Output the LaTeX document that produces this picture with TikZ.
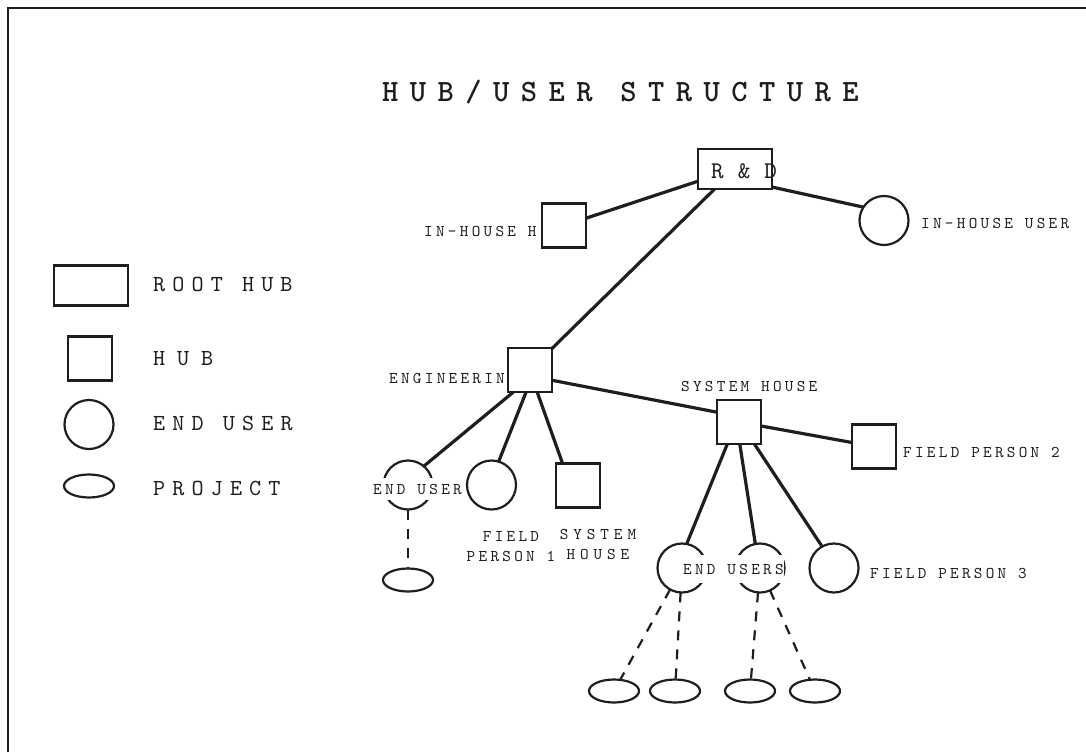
\documentclass[tikz,border=0pt]{standalone}
\usepackage{fontspec}
\usetikzlibrary{shapes.geometric}
% typewriter faces with tracking for the different label sizes
\newfontfamily\lblfont{lmmono10-regular.otf}[LetterSpace=20]
\newfontfamily\shfont{lmmono10-regular.otf}[LetterSpace=30]
\newfontfamily\legfont{lmmono10-regular.otf}[LetterSpace=31]
\newfontfamily\hubfont{lmmono10-regular.otf}[LetterSpace=52]
\newfontfamily\rdfont{lmmono10-regular.otf}[LetterSpace=6]
\newfontfamily\titlefont{lmmonolt10-bold.otf}[LetterSpace=37]
\definecolor{inkc}{RGB}{30,30,30}
\tikzset{
  shapeline/.style={draw=inkc, line width=2.2pt, inner sep=0pt, outer sep=0pt},
  roothub/.style={shapeline, rectangle, minimum width=74pt, minimum height=40pt},
  hubbox/.style={shapeline, rectangle, minimum width=44pt, minimum height=44pt},
  enduser/.style={shapeline, circle, minimum size=49pt},
  project/.style={shapeline, ellipse, minimum width=50pt, minimum height=23pt},
  link/.style={draw=inkc, line width=3.2pt},
  projlink/.style={draw=inkc, line width=2.2pt, dash pattern=on 10pt off 9pt},
  lbl/.style={inner sep=0pt, anchor=base west, text=inkc, font={\lblfont\fontsize{16.4}{20}\selectfont}},
  lblc/.style={inner sep=0pt, anchor=center, align=center, text=inkc},
  masked/.style={fill=white, inner ysep=6pt},
  legend/.style={inner sep=0pt, anchor=base west, text=inkc, font={\legfont\fontsize{23}{26}\selectfont}},
}
\begin{document}
\begin{tikzpicture}[x=1pt, y=-1pt]
\useasboundingbox (0,0) rectangle (1086,752);
% page frame (top and left edges)
\draw[draw=inkc, line width=2.5pt] (8,752) -- (8,8) -- (1086,8);

% title
\node[inner sep=0pt, anchor=base west, text=inkc, font={\titlefont\fontsize{31}{34}\selectfont}] (title) at (382,101.5) {HUB/USER STRUCTURE};

% legend
\node[roothub] (lgroot) at (91,285.5) {};
\node[hubbox] (lghub) at (90,358.5) {};
\node[enduser] (lguser) at (89,424.5) {};
\node[project] (lgproj) at (89,486) {};
\node[legend] (lgroottxt) at (153,291) {ROOT HUB};
\node[legend, font={\hubfont\fontsize{23}{26}\selectfont}] (lghubtxt) at (153,365) {HUB};
\node[legend] (lgusertxt) at (153,430) {END USER};
\node[legend] (lgprojtxt) at (153,495) {PROJECT};

% end users whose labels run across them
\node[enduser] (eu0) at (408,485) {};
\node[enduser] (eu1) at (682,568) {};
\node[enduser] (eu2) at (760,568) {};
\node[lbl, masked] (eu0txt) at (373,494) {END USER};
\node[lbl, masked, inner ysep=9pt] (eustxt) at (683,574) {END USERS};

% hubs
\node[roothub] (rnd) at (735,169) {};
\node[inner sep=0pt, anchor=base west, text=inkc, font={\rdfont\fontsize{24}{26}\selectfont}] (rndtxt) at (711,178) {R \& D};
\node[hubbox] (ihh) at (564,225.5) {};
\node[hubbox] (eng) at (530,370) {};
\node[hubbox] (sh) at (739,422) {};
\node[hubbox] (fp2) at (874,446.5) {};
\node[hubbox] (sh2) at (578,485.5) {};

% end users and projects
\node[enduser] (ihu) at (884,220.5) {};
\node[enduser] (fp1) at (491.5,485) {};
\node[enduser] (fp3) at (834,568) {};
\node[project] (pj0) at (408,580) {};
\node[project] (pj1) at (614,691) {};
\node[project] (pj2) at (675,691) {};
\node[project] (pj3) at (750,691) {};
\node[project] (pj4) at (815,691) {};

% labels
\node[lbl] (ihhtxt) at (424,236) {IN-HOUSE H};
\node[lbl] (ihutxt) at (921,228) {IN-HOUSE USER};
\node[lbl] (engtxt) at (389,383) {ENGINEERIN};
\node[lbl] (shtxt) at (681,391) {SYSTEM HOUSE};
\node[lbl] (fp2txt) at (903,457) {FIELD PERSON 2};
\node[lbl] (fp3txt) at (870,578) {FIELD PERSON 3};
\node[lblc, font={\lblfont\fontsize{16.4}{20}\selectfont}] (fp1txt) at (511,547) {FIELD\\PERSON 1};
\node[lblc, font={\shfont\fontsize{16.4}{20}\selectfont}] (sh2txt) at (598,544) {SYSTEM\\HOUSE};

% hub links
\draw[link] (rnd) -- (ihh);
\draw[link] (rnd.-26) -- (ihu.147);
\draw[link] (rnd) -- (eng);
\draw[link] (eng.-25) -- (sh.156);
\draw[link] (sh) -- (fp2);
\draw[link] (eng.233) -- (eu0.50);
\draw[link] (eng.260) -- (fp1.73);
\draw[link] (eng.288) -- (sh2.125);
\draw[link] (sh.242) -- (eu1.79);
\draw[link] (sh.272) -- (eu2.101);
\draw[link] (sh.305) -- (fp3.119);

% project links
\draw[projlink] (eu0) -- (pj0);
\draw[projlink] (eu1) -- (pj1);
\draw[projlink] (eu1) -- (pj2);
\draw[projlink] (eu2) -- (pj3);
\draw[projlink] (eu2) -- (pj4);
\end{tikzpicture}
\end{document}
